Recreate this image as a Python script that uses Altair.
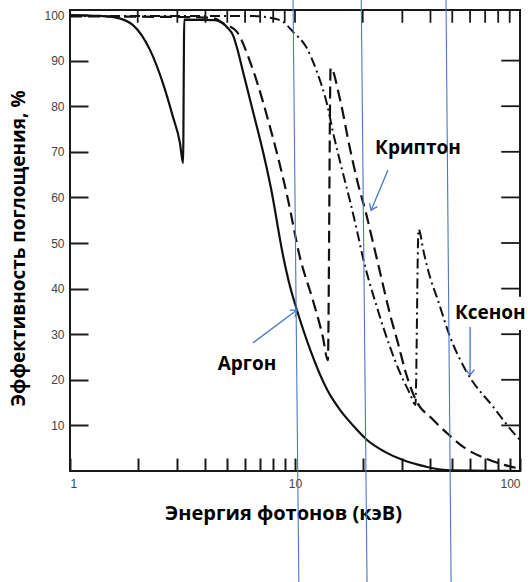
import altair as alt
import pandas as pd

# ---- curve data (photon energy keV, absorption efficiency %) ----
argon_e = [1.0, 1.36, 1.585, 1.905, 2.27, 2.59, 2.87, 3.08, 3.18, 3.22, 4.41, 4.74, 5.04, 5.30, 5.58,
           5.87, 6.51, 7.21, 7.82, 8.87, 9.50, 10.2, 11.7, 13.9, 15.85, 18.1, 20.9, 25.1, 30.2, 37.8, 47.4, 100]
argon_eff = [100, 99.8, 99.5, 97.8, 92.3, 85, 77.6, 72, 67.5, 99, 98.9, 98.3, 97.1, 95.6, 92,
             87.6, 78.8, 70, 62, 47, 40.5, 35.3, 26.5, 17.8, 13.4, 10, 6.8, 4.2, 2.4, 1, 0.2, 0]

krypton_e = [1.0, 3.78, 4.41, 4.79, 5.52, 6.31, 6.85, 7.59, 8.58, 9.31, 10.5, 12.0, 13.3, 14.0,
             14.4, 15.85, 17.5, 19.05, 20.7, 22.0, 23.9, 26.4, 28.7, 31.1, 34.5, 40.6, 47.4, 57.0, 69.9, 85.8, 100]
krypton_eff = [99.7, 99.5, 99.2, 98.2, 96.3, 89.8, 84.6, 77, 67, 59.5, 47, 37.5, 29.4, 24.3,
               88.4, 81.5, 71, 63, 56.5, 51, 43.5, 34.5, 28, 21.5, 15.5, 11.5, 8.3, 5, 2.8, 1.3, 0.5]

xenon_e = [1.0, 6.31, 8.15, 8.85, 9.8, 11.3, 12.5, 13.9, 14.8, 16.3, 17.5, 18.9, 20.0, 23.1, 26.4, 29.3,
           32.4, 34.3, 35.4, 37.4, 40.1, 42.8, 48.9, 57.5, 75.9, 97.0, 100]
xenon_eff = [99.8, 99.8, 99.2, 98.5, 96.3, 92.7, 87.6, 80.3, 74, 65.5, 59.5, 52.5, 47, 36, 27.3, 21.5,
             17, 14.5, 53, 47.8, 42, 38, 29.4, 22, 14.1, 7.5, 6.8]

# ---- axis ticks (drawn inward, as in the original figure) ----
y_tick_vals = [10, 20, 30, 40, 50, 60, 70, 80, 90]
x_minor_ticks = [2, 3, 4, 5, 6, 7, 8, 9, 20, 30, 40, 50, 60, 70, 80, 90]
x_major_ticks = [10]
x_axis_vals = [1, 2, 3, 4, 5, 6, 7, 8, 9, 10, 20, 30, 40, 50, 60, 70, 80, 90, 100]
y_axis_vals = [10, 20, 30, 40, 50, 60, 70, 80, 90, 100]
X_MIN, X_MAX = 1.0, 100.0
Y_MIN, Y_MAX = 0.0, 101.1
RIGHT_TICK_START = 82.5   # inward right tick start (energy)
TOP_TICK_END = 98.3       # inward top tick end (efficiency)

# ---- blue overlay lines (slightly tilted) ----
blue_x_top = [9.8, 19.7, 46.9]
blue_x_bot = [10.4, 20.9, 49.4]
blue_y_top = [103.5, 103.5, 103.5]
blue_y_bot = [-24.5, -24.5, -24.5]

# ---- annotation labels & arrows ----
label_text = ["Аргон", "Криптон"]
label_e = [6.12, 35.2]
label_eff = [23.5, 70.8]
xenon_label = ["Ксенон"]
xenon_label_e = [51.4]
xenon_label_eff = [34.6]
box_e = [49.9]
box_e2 = [125]
box_eff = [38.2]
box_eff2 = [30.9]

arrow_e0 = [6.51, 25.9, 60.0]
arrow_eff0 = [28.1, 66.0, 31.6]
arrow_e1 = [10.2, 21.8, 60.0]
arrow_eff1 = [35.3, 57.2, 21.0]
arrow_angle = [323, 113, 90]

BLUE = "#4a78c2"


def series(e, eff):
    return pd.DataFrame({"energy": e, "eff": eff, "idx": list(range(len(e)))})


xscale = alt.Scale(type="log", domain=[X_MIN, X_MAX])
yscale = alt.Scale(domain=[Y_MIN, Y_MAX], nice=False, zero=False)

# Inward ticks: the axis is shifted inside the plot (negative offset) and its ticks point back to the edge.
x_axis = alt.Axis(values=x_axis_vals, format="d",
                  labelExpr="(datum.value == 1 || datum.value == 10 || datum.value == 100) ? datum.label : ''",
                  labelFlush=True, ticks=True, tickSize=13, offset=-13, tickColor="#1a1a1a",
                  tickWidth=2, grid=False, domain=False,
                  labelFont="Liberation Sans", labelFontSize=12, labelColor="#444", labelPadding=7,
                  title="Энергия фотонов (кэВ)", titleFont="Open Sans", titleFontSize=20,
                  titleFontWeight="bold", titleColor="black", titleX=213, titleY=55,
                  titleAlign="center", titleBaseline="middle")
y_axis = alt.Axis(values=y_axis_vals, format="d", ticks=True, tickSize=18, offset=-18,
                  tickColor="#1a1a1a", tickWidth=2, grid=False, domain=False,
                  labelFont="Liberation Sans", labelFontSize=12, labelColor="#444", labelPadding=6,
                  title="Эффективность поглощения, %", titleFont="Open Sans", titleFontSize=19,
                  titleFontWeight="bold", titleColor="black", titleX=-70, titleY=238,
                  titleAngle=270, titleAlign="center", titleBaseline="middle")


def X(field):
    return alt.X(field, scale=xscale, axis=x_axis)


def Y(field):
    return alt.Y(field, scale=yscale, axis=y_axis)


argon = alt.Chart(series(argon_e, argon_eff)).mark_line(
    color="#111", strokeWidth=2.2, interpolate="monotone"
).encode(x=X("energy:Q"), y=Y("eff:Q"), order="idx:Q")

krypton = alt.Chart(series(krypton_e, krypton_eff)).mark_line(
    color="#111", strokeWidth=2.2, strokeDash=[12, 6], interpolate="monotone"
).encode(x=X("energy:Q"), y=Y("eff:Q"), order="idx:Q")

xenon = alt.Chart(series(xenon_e, xenon_eff)).mark_line(
    color="#111", strokeWidth=2.0, strokeDash=[10, 4, 2, 4], interpolate="monotone"
).encode(x=X("energy:Q"), y=Y("eff:Q"), order="idx:Q")

# Right and top inward ticks as two-point segments
tick_rows = []
tid = 0


def seg(e0, f0, e1, f1):
    global tid
    tick_rows.append({"energy": e0, "eff": f0, "tick": tid, "k": 0})
    tick_rows.append({"energy": e1, "eff": f1, "tick": tid, "k": 1})
    tid += 1


for v in y_tick_vals:
    seg(RIGHT_TICK_START, v, X_MAX, v)
for v in x_minor_ticks + x_major_ticks:
    seg(v, Y_MAX, v, TOP_TICK_END)
tick_df = pd.DataFrame(tick_rows)
ticks = alt.Chart(tick_df).mark_line(color="#1a1a1a", strokeWidth=1.8, clip=False).encode(
    x=X("energy:Q"), y=Y("eff:Q"), detail="tick:N", order="k:Q")

blue_df = pd.DataFrame({"energy": blue_x_top, "energy2": blue_x_bot, "eff": blue_y_top, "eff2": blue_y_bot})
blue_lines = alt.Chart(blue_df).mark_rule(color=BLUE, strokeWidth=1.1, clip=False).encode(
    x=X("energy:Q"), x2="energy2:Q", y=Y("eff:Q"), y2="eff2:Q")

box_df = pd.DataFrame({"energy": box_e, "energy2": box_e2, "eff": box_eff, "eff2": box_eff2})
white_box = alt.Chart(box_df).mark_rect(color="white", clip=False).encode(
    x=X("energy:Q"), x2="energy2:Q", y=Y("eff:Q"), y2="eff2:Q")

lab_df = pd.DataFrame({"t": label_text, "energy": label_e, "eff": label_eff})
labels = alt.Chart(lab_df).mark_text(font="Open Sans", fontSize=19, fontWeight="bold",
                                     color="black", align="center", baseline="middle").encode(
    x=X("energy:Q"), y=Y("eff:Q"), text="t:N")

xlab_df = pd.DataFrame({"t": xenon_label, "energy": xenon_label_e, "eff": xenon_label_eff})
xlabel = alt.Chart(xlab_df).mark_text(font="Open Sans", fontSize=19, fontWeight="bold",
                                      color="black", align="left", baseline="middle").encode(
    x=X("energy:Q"), y=Y("eff:Q"), text="t:N")

arr_df = pd.DataFrame({"energy": arrow_e0, "eff": arrow_eff0, "energy2": arrow_e1, "eff2": arrow_eff1})
arrow_lines = alt.Chart(arr_df).mark_rule(color=BLUE, strokeWidth=1.3).encode(
    x=X("energy:Q"), x2="energy2:Q", y=Y("eff:Q"), y2="eff2:Q")
head_df = pd.DataFrame({"energy": arrow_e1, "eff": arrow_eff1, "ang": arrow_angle})
arrow_heads = alt.Chart(head_df).mark_point(
    shape="M -1 -0.75 L 0 0 L -1 0.75", filled=False, color=BLUE, strokeWidth=1.3, size=130, opacity=1
).encode(x=X("energy:Q"), y=Y("eff:Q"), angle=alt.Angle("ang:Q", scale=None))

chart = alt.layer(
    argon, krypton, xenon, ticks, white_box, blue_lines, arrow_lines, arrow_heads, labels, xlabel
).properties(
    width=450, height=461,
    autosize=alt.AutoSizeParams(type="none"),
    padding={"left": 70, "top": 10, "right": 8, "bottom": 111},
).configure(background="white").configure_view(stroke="#1a1a1a", strokeWidth=2)

chart.save("out.html", embed_options={"renderer": "svg", "actions": False})
